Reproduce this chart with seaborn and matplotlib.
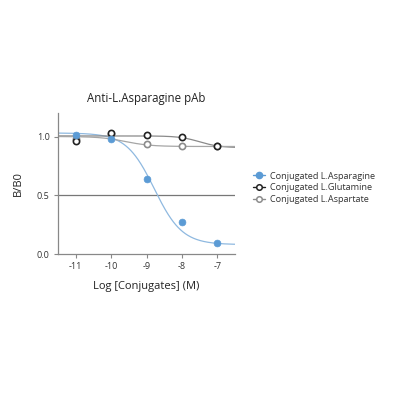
import numpy as np
import pandas as pd
import matplotlib
matplotlib.use("Agg")
import matplotlib.pyplot as plt
from matplotlib.lines import Line2D
import seaborn as sns

# ---- data ----
log_conc = [-11, -10, -9, -8, -7]
asparagine = [1.01, 0.98, 0.64, 0.27, 0.09]
glutamine = [0.965, 1.03, 1.01, 1.00, 0.92]
aspartate = [0.98, 1.02, 0.94, 0.915, 0.92]
series_names = ["Conjugated L.Asparagine", "Conjugated L.Glutamine", "Conjugated L.Aspartate"]
# 4-parameter logistic fit parameters (top, bottom, logIC50, hill)
fit_asparagine = [1.03, 0.08, -8.78, 1.1]
fit_glutamine = [1.005, 0.905, -7.5, 1.5]
fit_aspartate = [1.0, 0.915, -9.6, 1.2]
title = "Anti-L.Asparagine pAb"
xlabel = "Log [Conjugates] (M)"
ylabel = "B/B0"
xticks = [-11, -10, -9, -8, -7]
yticks = [0.0, 0.5, 1.0]

sns.set_theme(style="white")
plt.rcParams['font.family'] = ['Open Sans', 'DejaVu Sans']

def logistic(x, p):
    top, bottom, ic, h = p
    return bottom + (top - bottom) / (1 + 10 ** (h * (x - ic)))

xs = np.linspace(-11.5, -6.5, 300)
colors = ["#5b9bd5", "#222222", "#8c8c8c"]
vals = [asparagine, glutamine, aspartate]
fits = [fit_asparagine, fit_glutamine, fit_aspartate]

fig = plt.figure(figsize=(4, 4), dpi=100)
ax = fig.add_axes([0.145, 0.365, 0.4425, 0.3525])

ax.axhline(0.5, color="#777777", lw=0.9, zorder=1)

curve_colors = ["#8fb9e0", "#8a8a8a", "#a6a6a6"]
for name, v, p, c, cc in zip(series_names, vals, fits, colors, curve_colors):
    sns.lineplot(x=xs, y=logistic(xs, p), ax=ax, color=cc, lw=0.9, zorder=2)

df_blue = pd.DataFrame({"x": log_conc, "y": asparagine})
sns.scatterplot(data=df_blue, x="x", y="y", ax=ax, color=colors[0], s=24,
                edgecolor=colors[0], linewidth=0.5, zorder=5)
df_gl = pd.DataFrame({"x": log_conc, "y": glutamine})
sns.scatterplot(data=df_gl, x="x", y="y", ax=ax, facecolor="white", s=20,
                edgecolor=colors[1], linewidth=1.2, zorder=4)
df_as = pd.DataFrame({"x": log_conc, "y": aspartate})
sns.scatterplot(data=df_as, x="x", y="y", ax=ax, facecolor="white", s=20,
                edgecolor=colors[2], linewidth=1.2, zorder=3)

ax.set_xlim(-11.5, -6.5)
ax.set_ylim(0, 1.2)
ax.set_xticks(xticks)
ax.set_xticklabels([str(t) for t in xticks])
ax.set_yticks(yticks)
ax.set_yticklabels([f"{t:.1f}" for t in yticks])
for s in ["top", "right"]:
    ax.spines[s].set_visible(False)
for s in ["left", "bottom"]:
    ax.spines[s].set_color("#888888")
    ax.spines[s].set_linewidth(0.9)
ax.tick_params(axis="both", labelsize=6.5, colors="#333333", length=3, width=0.8,
               direction="out", bottom=True, left=True, pad=3)
ax.tick_params(axis="both", color="#888888")
ax.set_title(title, fontsize=8.3, color="#222222", pad=8)
ax.set_xlabel(xlabel, fontsize=8, color="#222222", labelpad=7)
ax.set_ylabel(ylabel, fontsize=8, color="#222222", labelpad=9)

handles = [
    Line2D([], [], color=colors[0], marker="o", markersize=4.5, markerfacecolor=colors[0],
           markeredgecolor=colors[0], lw=1),
    Line2D([], [], color=colors[1], marker="o", markersize=4, markerfacecolor="white",
           markeredgecolor=colors[1], markeredgewidth=1.1, lw=1),
    Line2D([], [], color=colors[2], marker="o", markersize=4, markerfacecolor="white",
           markeredgecolor=colors[2], markeredgewidth=1.1, lw=1),
]
fig.legend(handles, series_names, loc="center left", bbox_to_anchor=(0.612, 0.53),
           frameon=False, fontsize=6.6, handlelength=1.3, handletextpad=0.6,
           labelspacing=0.32, labelcolor="#333333")

fig.savefig("out.png", dpi=100, facecolor="white")
